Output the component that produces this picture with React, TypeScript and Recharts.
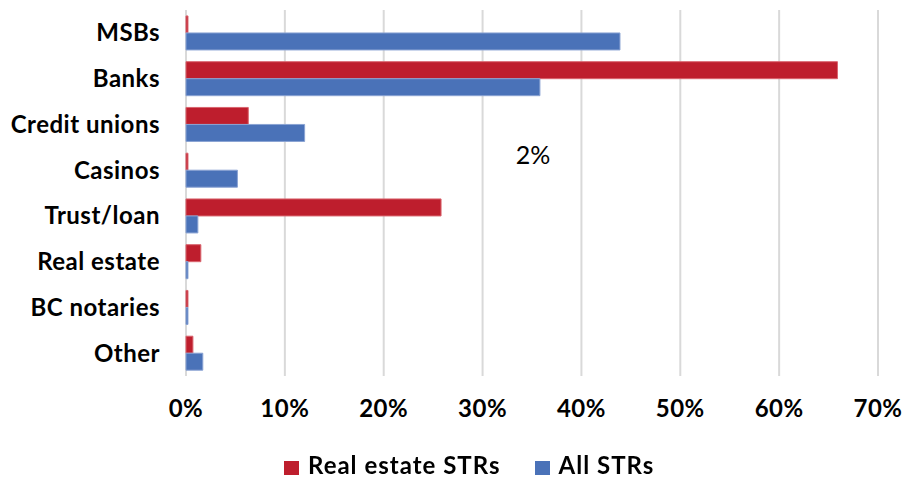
import React from "react";
import {
  BarChart,
  Bar,
  XAxis,
  YAxis,
  CartesianGrid,
  Legend,
  Customized,
} from "recharts";

const categories = [
  "MSBs",
  "Banks",
  "Credit unions",
  "Casinos",
  "Trust/loan",
  "Real estate",
  "BC notaries",
  "Other",
];
const realEstateSTRs = [0.2, 65.9, 6.3, 0.2, 25.8, 1.5, 0.2, 0.7];
const allSTRs = [43.9, 35.8, 12.0, 5.2, 1.2, 0.2, 0.2, 1.7];
const xTicks = [0, 10, 20, 30, 40, 50, 60, 70];
const strayLabel = "2%";

const seriesNames = ["Real estate STRs", "All STRs"];
const seriesColors = ["#be1e2d", "#4a72b8"];

const data = categories.map((name, i) => ({
  name,
  [seriesNames[0]]: realEstateSTRs[i],
  [seriesNames[1]]: allSTRs[i],
}));

const FONT = "Lato, 'Open Sans', sans-serif";
const tickStyle = {
  fontFamily: FONT,
  fontSize: 24,
  fontWeight: 700,
  fill: "#000",
  letterSpacing: 0.5,
};

// stray data label that sits in the middle of the original chart
const StrayLabel = () => (
  <text
    x={533}
    y={164}
    textAnchor="middle"
    fontFamily={FONT}
    fontSize={25}
    fill="#000"
  >
    {strayLabel}
  </text>
);

const LegendBox = () => (
  <div
    style={{
      display: "flex",
      alignItems: "center",
      height: 24,
      paddingLeft: 284,
      fontFamily: FONT,
      fontSize: 24,
      fontWeight: 700,
      letterSpacing: 1,
      color: "#000",
      lineHeight: "24px",
    }}
  >
    {seriesNames.map((n, i) => (
      <div
        key={n}
        style={{ display: "flex", alignItems: "center", marginRight: 34 }}
      >
        <span
          style={{
            display: "inline-block",
            width: 15,
            height: 14,
            position: "relative",
            top: 3,
            background: seriesColors[i],
            marginRight: 9,
          }}
        />
        <span>{n}</span>
      </div>
    ))}
  </div>
);

const App: React.FC = () => {
  return (
    <div
      style={{
        position: "fixed",
        top: 0,
        left: 0,
        width: 906,
        height: 478,
        background: "#fff",
      }}
    >
      <BarChart
        width={906}
        height={478}
        data={data}
        layout="vertical"
        barCategoryGap="13%"
        barGap={0}
        margin={{ top: 10, right: 28, left: 0, bottom: 0 }}
      >
        <CartesianGrid horizontal={false} stroke="#d9d9d9" strokeWidth={2} />
        <XAxis
          type="number"
          domain={[0, 70]}
          ticks={xTicks}
          tickFormatter={(v: number) => `${v}%`}
          axisLine={false}
          tickLine={false}
          tickMargin={18}
          height={78}
          tick={tickStyle}
        />
        <YAxis
          type="category"
          dataKey="name"
          width={186}
          axisLine={false}
          tickLine={false}
          tickMargin={20}
          interval={0}
          tick={tickStyle}
        />
        <Legend
          verticalAlign="bottom"
          content={<LegendBox />}
          wrapperStyle={{ top: 453, left: 0, height: 24 }}
        />
        <Bar
          dataKey={seriesNames[0]}
          fill={seriesColors[0]}
          stroke="#d9646e"
          strokeWidth={1}
          isAnimationActive={false}
        />
        <Bar
          dataKey={seriesNames[1]}
          fill={seriesColors[1]}
          stroke="#8aa3d3"
          strokeWidth={1}
          isAnimationActive={false}
        />
        <Customized component={StrayLabel} />
      </BarChart>
    </div>
  );
};

export default App;
